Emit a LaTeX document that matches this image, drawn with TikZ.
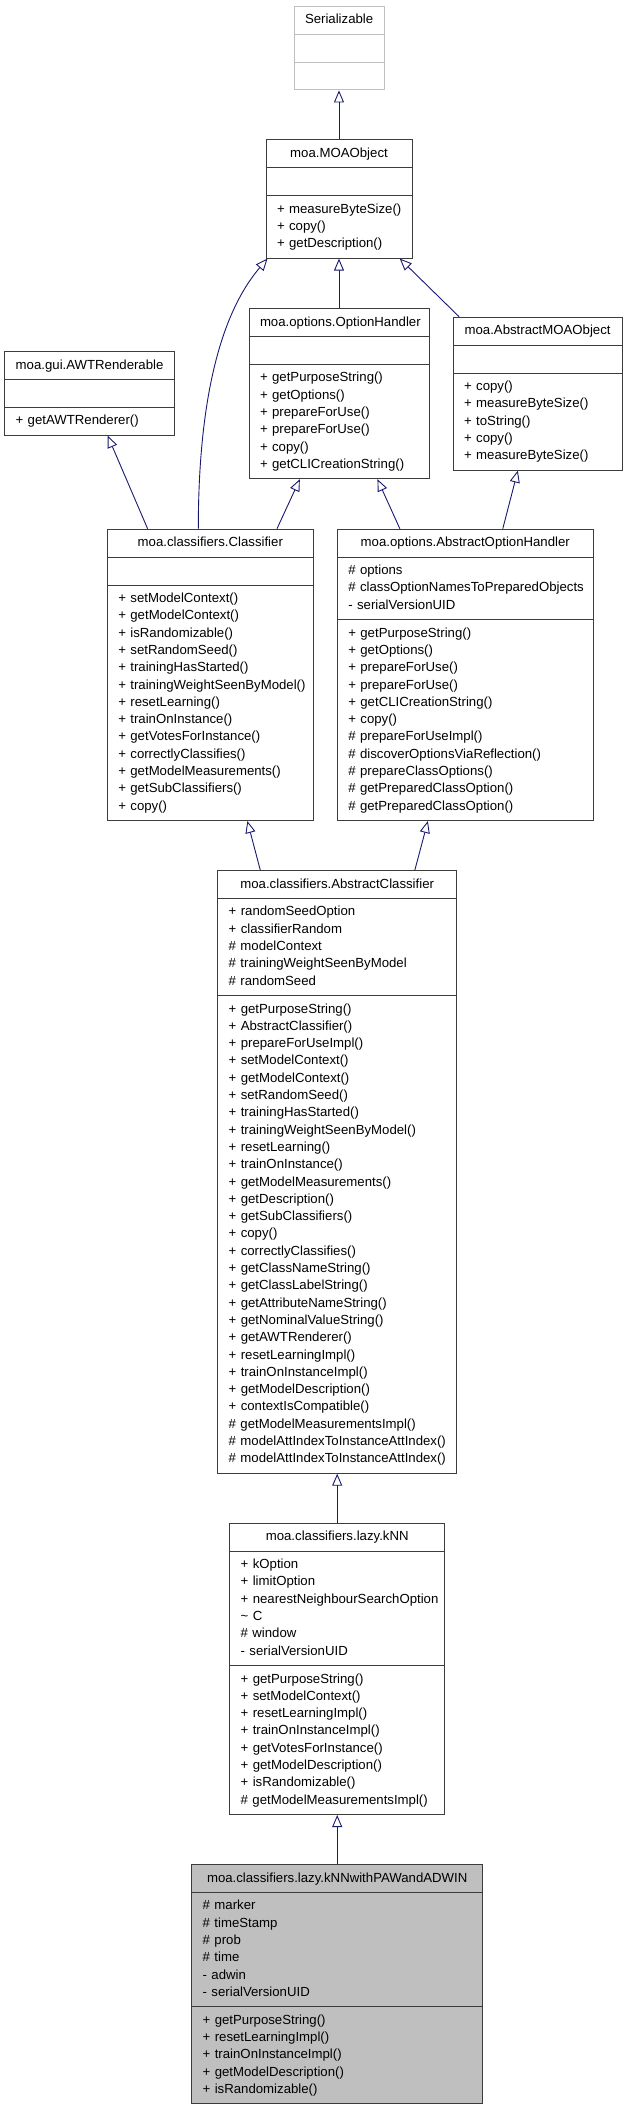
\documentclass[tikz,border=0pt]{standalone}
\usepackage{fontspec}
\setmainfont{Liberation Sans}
\usepackage{tikz}
\usetikzlibrary{arrows.meta,positioning,shapes.multipart}
\definecolor{edgeBlue}{RGB}{25,25,112}
\definecolor{boxGray}{RGB}{191,191,191}
\definecolor{boxLine}{RGB}{60,60,60}
\newcommand{\umlfont}{\fontsize{13.2pt}{17.3pt}\selectfont\hyphenpenalty=10000 }
\newcommand{\mstrut}{\rule[-5.1pt]{0pt}{17.3pt}}
\newcommand{\members}[1]{\foreach \m in {#1}{\mstrut\mbox{\m}\par}}
\newcommand{\ctitle}[1]{\centering\mstrut\mbox{#1}\par}
\tikzset{
umlclass/.style={rectangle split,rectangle split parts=3,draw=boxLine,line width=1pt,fill=white,inner xsep=11pt,inner ysep=4.8pt,align=left,font=\umlfont,anchor=north},
ghost/.style={umlclass,draw=boxGray},
focus/.style={umlclass,fill=boxGray},
inherit/.style={-{Triangle[open,length=12pt,width=10pt]},draw=edgeBlue,line width=0.9pt}
}
\begin{document}
\begin{tikzpicture}[x=1pt,y=-1pt]
\useasboundingbox (0,0) rectangle (624,2112);
% top of the hierarchy
\node[ghost,text width=68pt] (ser) at (339,5.7) {\ctitle{Serializable}\nodepart{two}\mstrut\nodepart{three}\mstrut};
\node[umlclass,text width=124pt] (moa) at (339,139.3) {\ctitle{moa.MOAObject}\nodepart{two}\mstrut
  \nodepart{three}\members{+ measureByteSize(),+ copy(),+ getDescription()}};
\node[umlclass,text width=158pt] (opth) at (339,308) {\ctitle{moa.options.OptionHandler}\nodepart{two}\mstrut
  \nodepart{three}\members{+ getPurposeString(),+ getOptions(),+ prepareForUse(),+ prepareForUse(),+ copy(),+ getCLICreationString()}};
\node[umlclass,text width=147pt] (amoa) at (537.6,316.7) {\ctitle{moa.AbstractMOAObject}\nodepart{two}\mstrut
  \nodepart{three}\members{+ copy(),+ measureByteSize(),+ toString(),+ copy(),+ measureByteSize()}};
\node[umlclass,text width=148pt] (awt) at (89.6,351) {\ctitle{moa.gui.AWTRenderable}\nodepart{two}\mstrut
  \nodepart{three}\members{+ getAWTRenderer()}};
% second row
\node[umlclass,text width=184pt] (cls) at (210.3,528.7) {\ctitle{moa.classifiers.Classifier}\nodepart{two}\mstrut
  \nodepart{three}\members{+ setModelContext(),+ getModelContext(),+ isRandomizable(),+ setRandomSeed(),+ trainingHasStarted(),+ trainingWeightSeenByModel(),+ resetLearning(),+ trainOnInstance(),+ getVotesForInstance(),+ correctlyClassifies(),+ getModelMeasurements(),+ getSubClassifiers(),+ copy()}};
\node[umlclass,text width=234pt] (aoh) at (465.3,528.7) {\ctitle{moa.options.AbstractOptionHandler}
  \nodepart{two}\members{\# options,\# classOptionNamesToPreparedObjects,- serialVersionUID}
  \nodepart{three}\members{+ getPurposeString(),+ getOptions(),+ prepareForUse(),+ prepareForUse(),+ getCLICreationString(),+ copy(),\# prepareForUseImpl(),\# discoverOptionsViaReflection(),\# prepareClassOptions(),\# getPreparedClassOption(),\# getPreparedClassOption()}};
% classifier chain
\node[umlclass,text width=217pt] (ac) at (337.2,870) {\ctitle{moa.classifiers.AbstractClassifier}
  \nodepart{two}\members{+ randomSeedOption,+ classifierRandom,\# modelContext,\# trainingWeightSeenByModel,\# randomSeed}
  \nodepart{three}\members{+ getPurposeString(),+ AbstractClassifier(),+ prepareForUseImpl(),+ setModelContext(),+ getModelContext(),+ setRandomSeed(),+ trainingHasStarted(),+ trainingWeightSeenByModel(),+ resetLearning(),+ trainOnInstance(),+ getModelMeasurements(),+ getDescription(),+ getSubClassifiers(),+ copy(),+ correctlyClassifies(),+ getClassNameString(),+ getClassLabelString(),+ getAttributeNameString(),+ getNominalValueString(),+ getAWTRenderer(),+ resetLearningImpl(),+ trainOnInstanceImpl(),+ getModelDescription(),+ contextIsCompatible(),\# getModelMeasurementsImpl(),\# modelAttIndexToInstanceAttIndex(),\# modelAttIndexToInstanceAttIndex()}};
\node[umlclass,text width=193pt,below=49pt of ac] (knn) {\ctitle{moa.classifiers.lazy.kNN}
  \nodepart{two}\members{+ kOption,+ limitOption,+ nearestNeighbourSearchOption,\textasciitilde\ C,\# window,- serialVersionUID}
  \nodepart{three}\members{+ getPurposeString(),+ setModelContext(),+ resetLearningImpl(),+ trainOnInstanceImpl(),+ getVotesForInstance(),+ getModelDescription(),+ isRandomizable(),\# getModelMeasurementsImpl()}};
\node[focus,text width=269pt,below=49pt of knn] (paw) {\ctitle{moa.classifiers.lazy.kNNwithPAWandADWIN}
  \nodepart{two}\members{\# marker,\# timeStamp,\# prob,\# time,- adwin,- serialVersionUID}
  \nodepart{three}\members{+ getPurposeString(),+ resetLearningImpl(),+ trainOnInstanceImpl(),+ getModelDescription(),+ isRandomizable()}};
% inheritance
\draw[inherit] (moa) -- (ser);
\draw[inherit] (opth) -- (moa);
\draw[inherit] (amoa) -- (moa);
\draw[inherit] ([xshift=-12pt]cls.north) .. controls +(0,-110) and +(-53,62) .. ([xshift=2pt]moa.south west);
\draw[inherit] (cls) -- (awt);
\draw[inherit] (cls) -- (opth);
\draw[inherit] (aoh) -- (opth);
\draw[inherit] (aoh) -- (amoa);
\draw[inherit] (ac) -- (cls);
\draw[inherit] (ac) -- (aoh);
\draw[inherit] (knn) -- (ac);
\draw[inherit] (paw) -- (knn);
\end{tikzpicture}
\end{document}
